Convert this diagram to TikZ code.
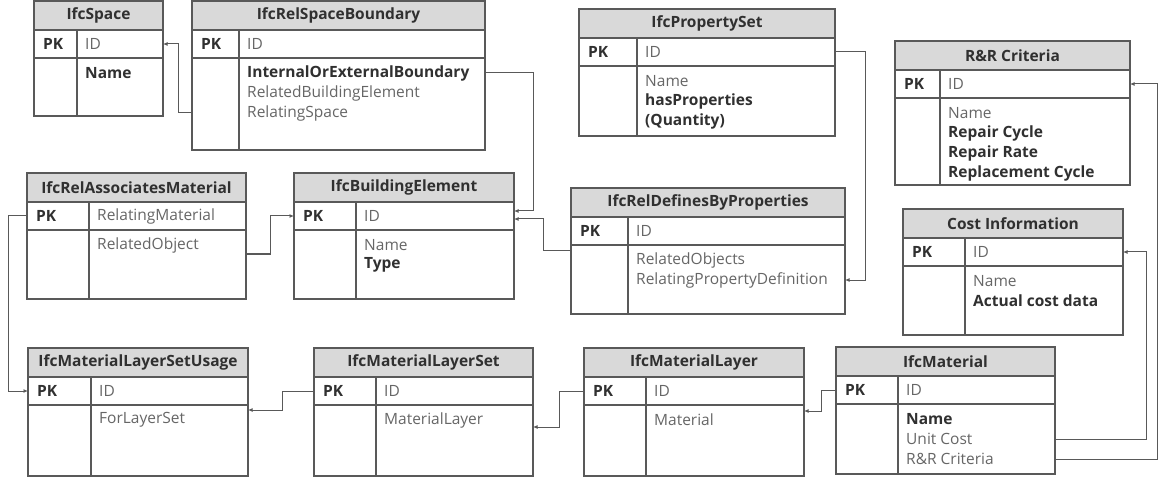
\documentclass[tikz,border=0pt]{standalone}
\usepackage{fontspec}
\setmainfont{Open Sans}
\usepackage{tikz}
\usetikzlibrary{arrows.meta,positioning}
\usepackage{xcolor}
\definecolor{erdLine}{HTML}{595959}
\definecolor{erdHead}{HTML}{D9D9D9}
\definecolor{erdText}{HTML}{666666}
\definecolor{erdDark}{HTML}{303030}
\newcommand{\kb}[1]{{\color{erdDark}\bfseries #1}}
% name, x, y, width, divider, body height, title, pk field, body fields
\newcommand{\ertable}[9]{%
  \node[hdr,minimum width=#4pt,anchor=north west] (#1) at (#2,#3) {#7};
  \node[pkrow,minimum width=#4pt,below=0pt of #1] (#1-pk) {};
  \node[bodyrow,minimum width=#4pt,minimum height=#6pt,below=0pt of #1-pk] (#1-b) {};
  \draw[grid] ([xshift=#5pt]#1-pk.north west) -- ([xshift=#5pt]#1-b.south west);
  \node[pktxt] at ([xshift=9pt]#1-pk.west) {PK};
  \node[field] (#1-id) at ([xshift=#5pt+8pt]#1-pk.west) {#8};
  \foreach \f [count=\i] in {#9} {\node[field] (#1-f\i) at ([xshift=#5pt+8pt,yshift=-20pt*\i+5pt]#1-b.north west) {\f};}
}

\begin{document}
\begin{tikzpicture}[x=1pt,y=-1pt,>={Latex[length=4.5pt,width=4pt]}]
\tikzstyle{hdr}=[draw=erdLine,fill=erdHead,line width=1.3pt,outer sep=0pt,inner sep=0pt,minimum height=29pt,font=\fontsize{15.5}{18}\selectfont\bfseries,text=erdDark]
\tikzstyle{pkrow}=[draw=erdLine,fill=white,line width=1.3pt,outer sep=0pt,inner sep=0pt,minimum height=28pt]
\tikzstyle{bodyrow}=[draw=erdLine,fill=white,line width=1.3pt,outer sep=0pt,inner sep=0pt]
\tikzstyle{grid}=[draw=erdLine,line width=1.3pt]
\tikzstyle{pktxt}=[anchor=west,inner sep=0pt,font=\fontsize{15.5}{18}\selectfont\bfseries,text=erdDark]
\tikzstyle{field}=[anchor=west,inner sep=0pt,font=\fontsize{15.5}{18}\selectfont,text=erdText]
\tikzstyle{conn}=[->,draw=erdLine,line width=1pt]
\useasboundingbox (0,0) rectangle (1162,481);
% tables
\ertable{spc}{34}{1}{129}{43}{58}{IfcSpace}{ID}{\kb{Name}}
\ertable{rsb}{192}{1}{293}{47}{92}{IfcRelSpaceBoundary}{ID}{\kb{InternalOrExternalBoundary},RelatedBuildingElement,RelatingSpace}
\ertable{ps}{579}{9}{256}{58}{70}{IfcPropertySet}{ID}{Name,\kb{hasProperties},\kb{(Quantity)}}
\ertable{rr}{895}{41}{235}{45}{87}{R\&R Criteria}{ID}{Name,\kb{Repair Cycle},\kb{Repair Rate},\kb{Replacement Cycle}}
\ertable{ram}{27}{173}{219}{62}{69}{IfcRelAssociatesMaterial}{RelatingMaterial}{RelatedObject}
\ertable{be}{294}{173}{220}{62}{69}{IfcBuildingElement}{ID}{Name,\kb{Type}}
\ertable{rdbp}{571}{188}{274}{57}{69}{IfcRelDefinesByProperties}{ID}{RelatedObjects,RelatingPropertyDefinition}
\ertable{ci}{903}{209}{220}{62}{69}{Cost Information}{ID}{Name,\kb{Actual cost data}}
\ertable{mlsu}{28}{348}{220}{63}{71}{IfcMaterialLayerSetUsage}{ID}{ForLayerSet}
\ertable{mls}{314}{348}{219}{62}{71}{IfcMaterialLayerSet}{ID}{MaterialLayer}
\ertable{ml}{584}{348}{220}{62}{71}{IfcMaterialLayer}{ID}{Material}
\ertable{mat}{836}{347}{219}{62}{70}{IfcMaterial}{ID}{\kb{Name},Unit Cost,R\&R Criteria}
% links
\draw[conn] (rsb-f3 -| rsb-b.west) -- ++(-14,0) |- (spc-pk.east);
\draw[conn] (rsb-f1 -| rsb-b.east) -- ++(48,0) |- ([yshift=5pt]be-pk.east);
\draw[conn] ([yshift=-6pt]rdbp-b.north west) -- ++(-28,0) |- ([yshift=-3pt]be-pk.east);
\draw[conn] (ps-pk.east) -- ++(30,0) |- (rdbp-f2 -| rdbp-b.east);
\draw[conn] ([yshift=-24pt]ram-b.north east) -- ++(24,0) |- (be-pk.west);
\draw[conn] (ram-pk.west) -- ++(-19,0) |- (mlsu-pk.west);
\draw[conn] (mls-pk.west) -- ++(-32,0) |- ([yshift=-5pt]mlsu-b.north east);
\draw[conn] (ml-pk.west) -- ++(-25,0) |- ([yshift=-22pt]mls-b.north east);
\draw[conn] (mat-pk.west) -- ++(-15,0) |- ([yshift=-6pt]ml-b.north east);
\draw[conn] (mat-f2 -| mat-b.east) -- ++(91,0) |- (ci-pk.east);
\draw[conn] (mat-f3 -| mat-b.east) -- ++(102,0) |- (rr-pk.east);
\end{tikzpicture}
\end{document}
